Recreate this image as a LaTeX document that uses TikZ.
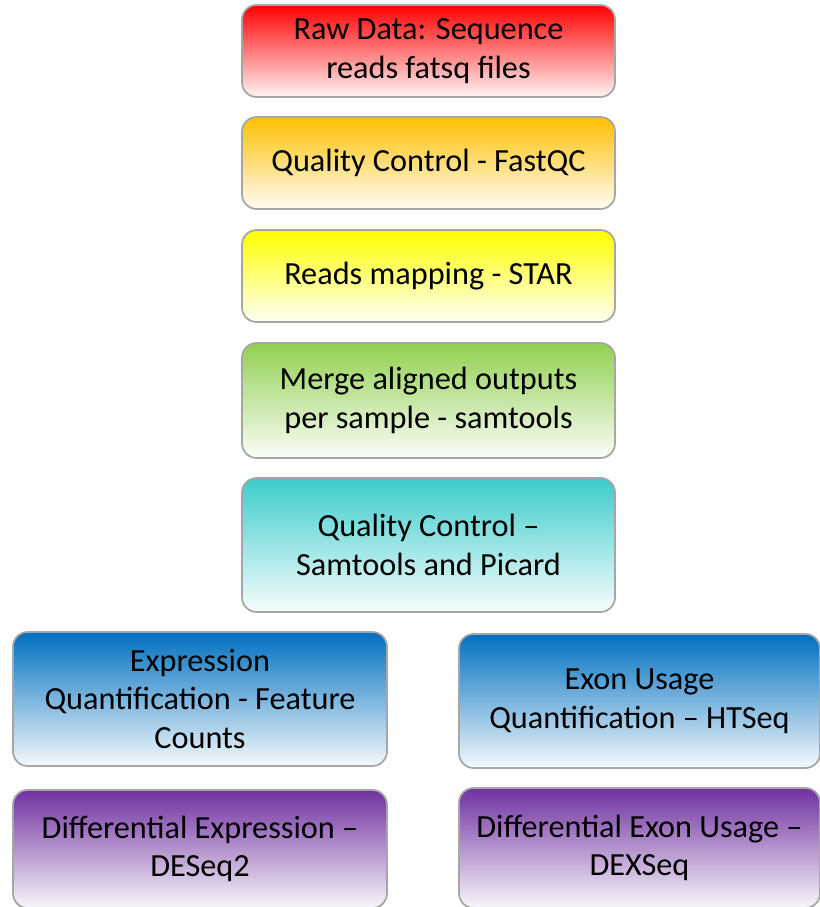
\documentclass[tikz,border=0pt]{standalone}
\usepackage{fontspec}
\setmainfont{Carlito}
\usetikzlibrary{backgrounds}
\definecolor{cred}{HTML}{FF0000}
\definecolor{corange}{HTML}{FFC000}
\definecolor{cyellow}{HTML}{FFFF00}
\definecolor{cgreen}{HTML}{92D050}
\definecolor{cteal}{HTML}{3CCCCC}
\definecolor{cblue}{HTML}{0070C0}
\definecolor{cpurple}{HTML}{7030A0}
\definecolor{cborder}{HTML}{A6A6A6}
\definecolor{cline}{HTML}{7F9FD4}
\tikzset{
  stepbox/.style={draw=cborder, line width=1.3pt, rounded corners=11pt,
    inner sep=0pt, outer sep=0pt, align=center,
    font=\fontsize{24.2}{29}\selectfont, text=black,
    top color=#1, bottom color=#1!4!white},
  link/.style={draw=cline, line width=0.8pt}
}
\begin{document}
\begin{tikzpicture}[x=0.75pt,y=-0.75pt]
\useasboundingbox[fill=white] (0,0) rectangle (820,907);
\node[stepbox=cred, minimum width=279.75pt, minimum height=69pt] (n1) at (428.5,51) {Raw Data: Sequence\\reads fatsq files};
\node[stepbox=corange, minimum width=279.75pt, minimum height=69pt] (n2) at (428.5,163) {Quality Control - FastQC};
\node[stepbox=cyellow, minimum width=279.75pt, minimum height=69pt] (n3) at (428.5,276) {Reads mapping - STAR};
\node[stepbox=cgreen, minimum width=279.75pt, minimum height=86.25pt] (n4) at (428.5,400.5) {Merge aligned outputs\\per sample - samtools};
\node[stepbox=cteal, minimum width=279.75pt, minimum height=100.5pt] (n5) at (428.5,545) {Quality Control –\\Samtools and Picard};
\node[stepbox=cblue, minimum width=280.5pt, minimum height=100.5pt] (n6) at (200,699) {Expression\\Quantification - Feature\\Counts};
\node[stepbox=cpurple, minimum width=280.5pt, minimum height=88.5pt] (n7) at (200,849) {Differential Expression –\\DESeq2};
\node[stepbox=cblue, minimum width=270.75pt, minimum height=100.5pt] (n8) at (639.5,701) {Exon Usage\\Quantification – HTSeq};
\node[stepbox=cpurple, minimum width=270.75pt, minimum height=90pt] (n9) at (639.5,848) {Differential Exon Usage –\\DEXSeq};
\begin{scope}[on background layer]
\draw[link] (n1) -- (n2);
\draw[link] (n2) -- (n3);
\draw[link] (n3) -- (n4);
\draw[link] (n4) -- (n5);
\draw[link] (n5) -- (n6);
\draw[link] (n5) -- (n8);
\draw[link] (n6) -- (n7);
\draw[link] (n8) -- (n9);
\end{scope}
\end{tikzpicture}
\end{document}
